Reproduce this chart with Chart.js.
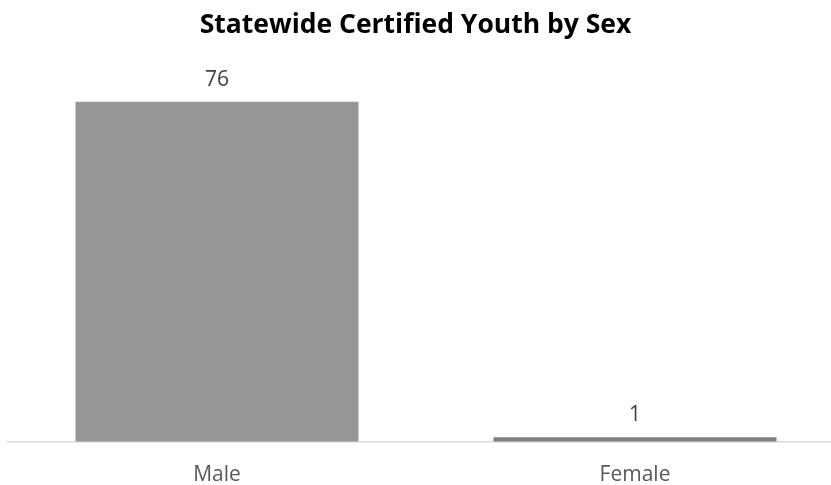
<!DOCTYPE html>
<html>
<head>
<meta charset="utf-8">
<script src="https://cdn.jsdelivr.net/npm/chart.js@4/dist/chart.umd.min.js"></script>
<style>
  html, body { margin: 0; padding: 0; background: #ffffff; }
  #wrap { width: 831px; height: 485px; overflow: hidden; position: relative; }
  #box { width: 850px; height: 509px; position: absolute; left: 0; top: 0; }
</style>
</head>
<body>
<div id="wrap"><div id="box"><canvas id="c"></canvas></div></div>
<script>
const categories = ['Male', 'Female'];
const youthCounts = [76, 1];
const barColors = ['#969696', '#808080'];
const chartTitle = 'Statewide Certified Youth by Sex';

const valueLabels = {
  id: 'valueLabels',
  afterDatasetsDraw(chart) {
    const ctx = chart.ctx;
    const meta = chart.getDatasetMeta(0);
    ctx.save();
    ctx.font = '21px "Open Sans", sans-serif';
    ctx.fillStyle = '#404040';
    ctx.textAlign = 'center';
    ctx.textBaseline = 'alphabetic';
    meta.data.forEach((el, i) => {
      ctx.fillText(String(youthCounts[i]), el.x, el.y - 16);
    });
    ctx.restore();
  }
};

// Title centred on the visible 831px image (canvas is wider and cropped)
const centredTitle = {
  id: 'centredTitle',
  afterDraw(chart) {
    const ctx = chart.ctx;
    ctx.save();
    ctx.font = 'bold 26.5px "Open Sans", sans-serif';
    ctx.fillStyle = '#000000';
    ctx.textAlign = 'center';
    ctx.textBaseline = 'middle';
    ctx.fillText(chartTitle, 831 / 2, 10 + 31.8 / 2);
    ctx.restore();
  }
};

new Chart(document.getElementById('c'), {
  type: 'bar',
  data: {
    labels: categories,
    datasets: [{
      data: youthCounts,
      backgroundColor: barColors,
      borderWidth: 0,
      categoryPercentage: 1.0,
      barPercentage: 0.677
    }]
  },
  options: {
    responsive: true,
    maintainAspectRatio: false,
    animation: false,
    layout: { padding: { left: 8, right: 6, top: 0, bottom: 0 } },
    plugins: {
      legend: { display: false },
      tooltip: { enabled: false },
      title: {
        display: true,
        text: chartTitle,
        color: 'rgba(0,0,0,0)',
        font: { family: '"Open Sans", sans-serif', size: 26.5, weight: 'bold', lineHeight: 1.2 },
        padding: { top: 10, bottom: 42 }
      }
    },
    scales: {
      x: {
        grid: { display: false, drawTicks: false },
        border: { display: true, color: '#d9d9d9', width: 1.5 },
        ticks: { color: '#595959', font: { family: '"Open Sans", sans-serif', size: 21 }, padding: 21 }
      },
      y: {
        display: false,
        min: 0,
        max: 80
      }
    }
  },
  plugins: [valueLabels, centredTitle]
});
</script>
</body>
</html>
